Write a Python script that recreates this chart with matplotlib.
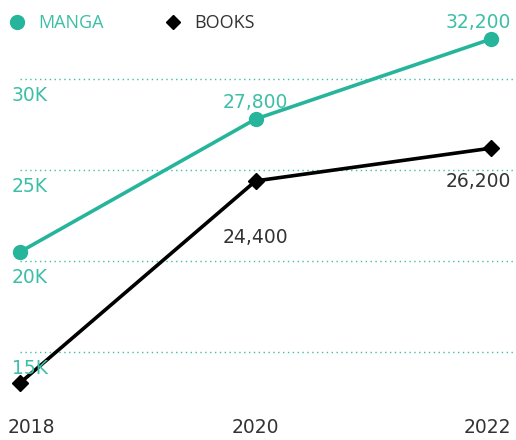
import numpy as np
import matplotlib
matplotlib.use("Agg")
from matplotlib import pyplot as plt
from matplotlib.lines import Line2D
import matplotlib.transforms as mtransforms

# data
years = [2018, 2020, 2022]
manga = [20500, 27800, 32200]
books = [13300, 24400, 26200]
grid_vals = [15000, 20000, 25000, 30000]
grid_labels = ["15K", "20K", "25K", "30K"]

TEAL = "#26b59b"
TEAL_LIGHT = "#3dbfa7"
DARK = "#333333"
FS = 13.5

plt.rcParams['font.family'] = ['DejaVu Sans']

fig = plt.figure(figsize=(5.16, 4.40), dpi=100)
ax = fig.add_axes([0, 32 / 440, 1, 408 / 440])

ax.set_xlim(2017.83, 2022.21)
ax.set_ylim(11923, 34341)

# dotted gridlines with labels sitting just under them
for v, lab in zip(grid_vals, grid_labels):
    ax.plot([2018, 2022.21], [v, v], linestyle=(0, (1, 2.5)), color=TEAL_LIGHT,
            linewidth=1.0, zorder=1)
    ax.annotate(lab, xy=(2018, v), xytext=(-6, -5), textcoords="offset points",
                ha="left", va="top", color=TEAL_LIGHT, fontsize=FS, zorder=4)

ax.plot(years, manga, color=TEAL, linewidth=2.6, marker="o", markersize=10,
        zorder=3, clip_on=False)
ax.plot(years, books, color="black", linewidth=2.6, marker="D", markersize=8.5,
        zorder=3, clip_on=False)

# data labels
ax.annotate(f"{manga[1]:,}", xy=(years[1], manga[1]), xytext=(0, 5),
            textcoords="offset points", ha="center", va="bottom",
            color=TEAL_LIGHT, fontsize=FS)
ax.annotate(f"{manga[2]:,}", xy=(years[2], manga[2]), xytext=(14, 5),
            textcoords="offset points", ha="right", va="bottom",
            color=TEAL_LIGHT, fontsize=FS)
ax.annotate(f"{books[1]:,}", xy=(years[1], books[1]), xytext=(0, -34),
            textcoords="offset points", ha="center", va="top",
            color=DARK, fontsize=FS)
ax.annotate(f"{books[2]:,}", xy=(years[2], books[2]), xytext=(14, -17),
            textcoords="offset points", ha="right", va="top",
            color=DARK, fontsize=FS)

# x axis: year labels only
ax.set_xticks(years)
ax.set_xticklabels([str(y) for y in years], fontsize=FS, color=DARK)
ax.tick_params(axis="x", length=0, pad=7)
ax.set_yticks([])
for s in ax.spines.values():
    s.set_visible(False)
lbls = ax.get_xticklabels()
lbls[0].set_transform(lbls[0].get_transform() + mtransforms.ScaledTranslation(8 / 72, 0, fig.dpi_scale_trans))
lbls[-1].set_transform(lbls[-1].get_transform() + mtransforms.ScaledTranslation(-3 / 72, 0, fig.dpi_scale_trans))

handles = [
    Line2D([], [], linestyle="none", marker="o", markersize=10, color=TEAL),
    Line2D([], [], linestyle="none", marker="D", markersize=7.5, color="black"),
]
leg = ax.legend(handles, ["MANGA", "BOOKS"], loc="upper left", ncol=2,
                frameon=False, bbox_to_anchor=(-0.02, 1.005),
                handletextpad=0.6, columnspacing=3.2, handlelength=1.2,
                prop={"family": "Open Sans", "size": 13})
leg.get_texts()[0].set_color(TEAL_LIGHT)
leg.get_texts()[1].set_color(DARK)

plt.savefig("out.png", dpi=100)
